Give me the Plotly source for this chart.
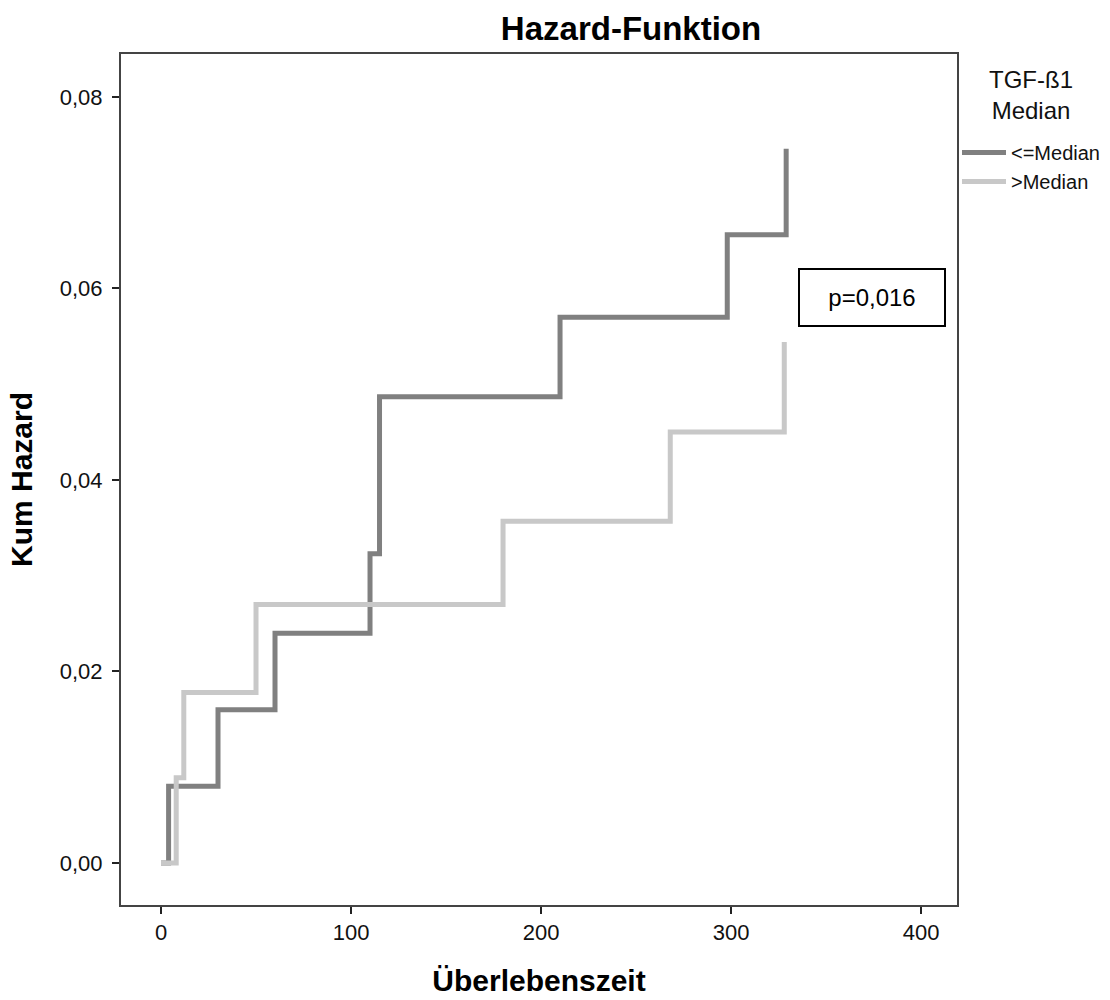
import plotly.graph_objects as go

# Data
time_low = [0, 4, 30, 60, 110, 115, 210, 298, 329]
haz_low = [0, 0.008, 0.016, 0.024, 0.0323, 0.0487, 0.0570, 0.0656, 0.0746]
time_high = [0, 8, 12, 50, 180, 268, 328]
haz_high = [0, 0.0089, 0.0178, 0.0270, 0.0357, 0.0450, 0.0544]
series_names = ["<=Median", ">Median"]
x_ticks = [0, 100, 200, 300, 400]
y_ticks = [0.0, 0.02, 0.04, 0.06, 0.08]

FONT = "Liberation Sans, Arial"

fig = go.Figure()
fig.add_trace(go.Scatter(x=time_low, y=haz_low, mode="lines", name=series_names[0],
                         line=dict(color="#808080", width=5, shape="hv")))
fig.add_trace(go.Scatter(x=time_high, y=haz_high, mode="lines", name=series_names[1],
                         line=dict(color="#c8c8c8", width=5, shape="hv")))

axis_common = dict(showgrid=False, zeroline=False, showline=True, mirror=True,
                   linecolor="#444444", linewidth=2, ticks="outside", ticklen=7,
                   tickwidth=2, tickcolor="#222222",
                   tickfont=dict(family=FONT, size=22, color="#111111"))

fig.update_layout(
    width=1110, height=1000,
    margin=dict(l=121, r=153, t=54, b=95, autoexpand=False),
    paper_bgcolor="white", plot_bgcolor="white",
    separators=",.",
    title=dict(text="<b>Hazard-Funktion</b>", x=0.5685, xanchor="center",
               y=0.972, yanchor="middle", yref="container",
               font=dict(family=FONT, size=33, color="#000000")),
    xaxis=dict(range=[-21.05, 418.9], tickvals=x_ticks,
               title=dict(text="<b>Überlebenszeit</b>", standoff=26,
                          font=dict(family=FONT, size=30, color="#000000")),
               **axis_common),
    yaxis=dict(range=[-0.00439, 0.08449], tickvals=y_ticks, tickformat=".2f",
               ticklabelstandoff=5,
               title=dict(text="<b>Kum Hazard</b>", standoff=18,
                          font=dict(family=FONT, size=30, color="#000000")),
               **axis_common),
    legend=dict(x=1.0, xanchor="left", y=0.9072, yanchor="top",
                bgcolor="rgba(0,0,0,0)",
                font=dict(family=FONT, size=20, color="#111111"),
                itemwidth=44, tracegroupgap=0),
    showlegend=True,
)

# legend title
fig.add_annotation(x=1.0885, y=0.952, xref="paper", yref="paper",
                   text="TGF-ß1<br>Median", showarrow=False, align="center",
                   xanchor="center", yanchor="middle",
                   font=dict(family=FONT, size=24, color="#111111"))

fig.add_annotation(x=374.2, y=0.05906, xref="x", yref="y", text="p=0,016",
                   showarrow=False, width=140, height=51, align="center",
                   bordercolor="#000000", borderwidth=2, borderpad=2, bgcolor="white",
                   font=dict(family=FONT, size=24, color="#000000"))

fig.write_html("out.html")
